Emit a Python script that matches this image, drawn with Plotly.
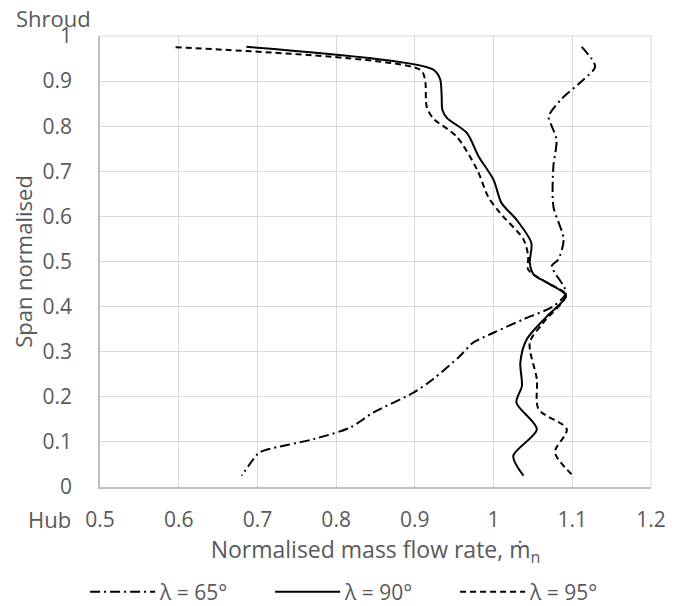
import plotly.graph_objects as go

# λ = 90° (solid)
x90 = [0.686, 0.923, 0.932, 0.934, 0.935, 0.941, 0.966, 0.981, 1.000, 1.010, 1.029, 1.048,
       1.046, 1.051, 1.068, 1.092, 1.068, 1.042, 1.034, 1.036, 1.029, 1.055, 1.025, 1.038]
y90 = [0.976, 0.926, 0.905, 0.870, 0.836, 0.818, 0.785, 0.733, 0.681, 0.630, 0.593, 0.541,
       0.497, 0.471, 0.453, 0.424, 0.379, 0.327, 0.276, 0.224, 0.187, 0.128, 0.069, 0.025]

# λ = 95° (dashed)
x95 = [0.596, 0.907, 0.913, 0.915, 0.923, 0.953, 0.979, 0.993, 1.008, 1.038, 1.044,
       1.044, 1.068, 1.092, 1.063, 1.046, 1.055, 1.057, 1.093, 1.078, 1.101]
y95 = [0.975, 0.925, 0.903, 0.844, 0.818, 0.777, 0.704, 0.644, 0.608, 0.549, 0.512,
       0.482, 0.453, 0.426, 0.364, 0.320, 0.239, 0.173, 0.128, 0.077, 0.025]

# λ = 65° (dash-dot)
x65 = [1.112, 1.129, 1.114, 1.085, 1.070, 1.074, 1.080, 1.076, 1.076, 1.089, 1.082, 1.074,
       1.092, 1.076, 1.038, 1.000, 0.974, 0.957, 0.923, 0.898, 0.847, 0.818, 0.771, 0.703,
       0.695, 0.680]
y65 = [0.976, 0.932, 0.903, 0.858, 0.821, 0.800, 0.770, 0.711, 0.622, 0.549, 0.504, 0.490,
       0.431, 0.401, 0.372, 0.342, 0.320, 0.290, 0.239, 0.209, 0.165, 0.132, 0.106, 0.077,
       0.062, 0.025]

series_names = ["λ = 65°", "λ = 90°", "λ = 95°"]

FONT = "'Open Sans', Lato, sans-serif"
GREY = "#595959"
TXT = 22
TICK = 21

fig = go.Figure()
fig.add_trace(go.Scatter(x=x65, y=y65, mode="lines", name=series_names[0],
                         line=dict(color="black", width=2, dash="10px,4px,2px,4px",
                                   shape="spline", smoothing=0.8)))
fig.add_trace(go.Scatter(x=x90, y=y90, mode="lines", name=series_names[1],
                         line=dict(color="black", width=2, shape="spline", smoothing=0.8)))
fig.add_trace(go.Scatter(x=x95, y=y95, mode="lines", name=series_names[2],
                         line=dict(color="black", width=2, dash="6px,4px",
                                   shape="spline", smoothing=0.8)))

# page has an 8px body margin: figure is 673x598 placed at (8, 8)
fig.update_layout(
    width=673, height=598,
    margin=dict(l=92, r=29.5, t=28, b=119, autoexpand=False),
    paper_bgcolor="white", plot_bgcolor="white",
    font=dict(family=FONT, size=TXT, color=GREY),
    showlegend=True,
    legend=dict(orientation="h", x=-0.027, xanchor="left", y=-0.233, yanchor="middle",
                itemwidth=65, entrywidth=105, entrywidthmode="pixels",
                font=dict(size=TXT - 1, color=GREY), tracegroupgap=0,
                bgcolor="rgba(0,0,0,0)"),
    xaxis=dict(range=[0.5, 1.2], dtick=0.1, tick0=0.5, showgrid=True, gridcolor="#d9d9d9",
               gridwidth=1, showline=True, linecolor="#bfbfbf", linewidth=1.5, mirror=False,
               zeroline=False, ticks="", ticklabelstandoff=13,
               tickfont=dict(size=TICK, color=GREY),
               title=dict(text="Normalised mass flow rate, ṁ<sub>n</sub>", standoff=10,
                          font=dict(size=TXT + 1, color=GREY))),
    yaxis=dict(range=[0, 1], dtick=0.1, tick0=0, showgrid=True, gridcolor="#d9d9d9",
               gridwidth=1, showline=True, linecolor="#bfbfbf", linewidth=1.5,
               zeroline=False, ticks="", ticklabelstandoff=22,
               tickfont=dict(size=TICK, color=GREY),
               title=dict(text="Span normalised", standoff=6,
                          font=dict(size=TXT, color=GREY))),
)

# edge gridlines (top and right)
fig.add_shape(type="line", xref="paper", yref="paper", x0=0, x1=1, y0=1, y1=1,
              line=dict(color="#d9d9d9", width=1), layer="below")
fig.add_shape(type="line", xref="paper", yref="paper", x0=1, x1=1, y0=0, y1=1,
              line=dict(color="#d9d9d9", width=1), layer="below")

fig.add_annotation(text="Hub", xref="paper", yref="paper", x=-0.092, y=-0.071,
                   xanchor="center", yanchor="middle", showarrow=False,
                   font=dict(size=TXT, color=GREY, family=FONT))
fig.add_annotation(text="Shroud", xref="paper", yref="paper", x=-0.085, y=1.04,
                   xanchor="center", yanchor="middle", showarrow=False,
                   font=dict(size=TXT, color=GREY, family=FONT))

fig.write_html("out.html")
